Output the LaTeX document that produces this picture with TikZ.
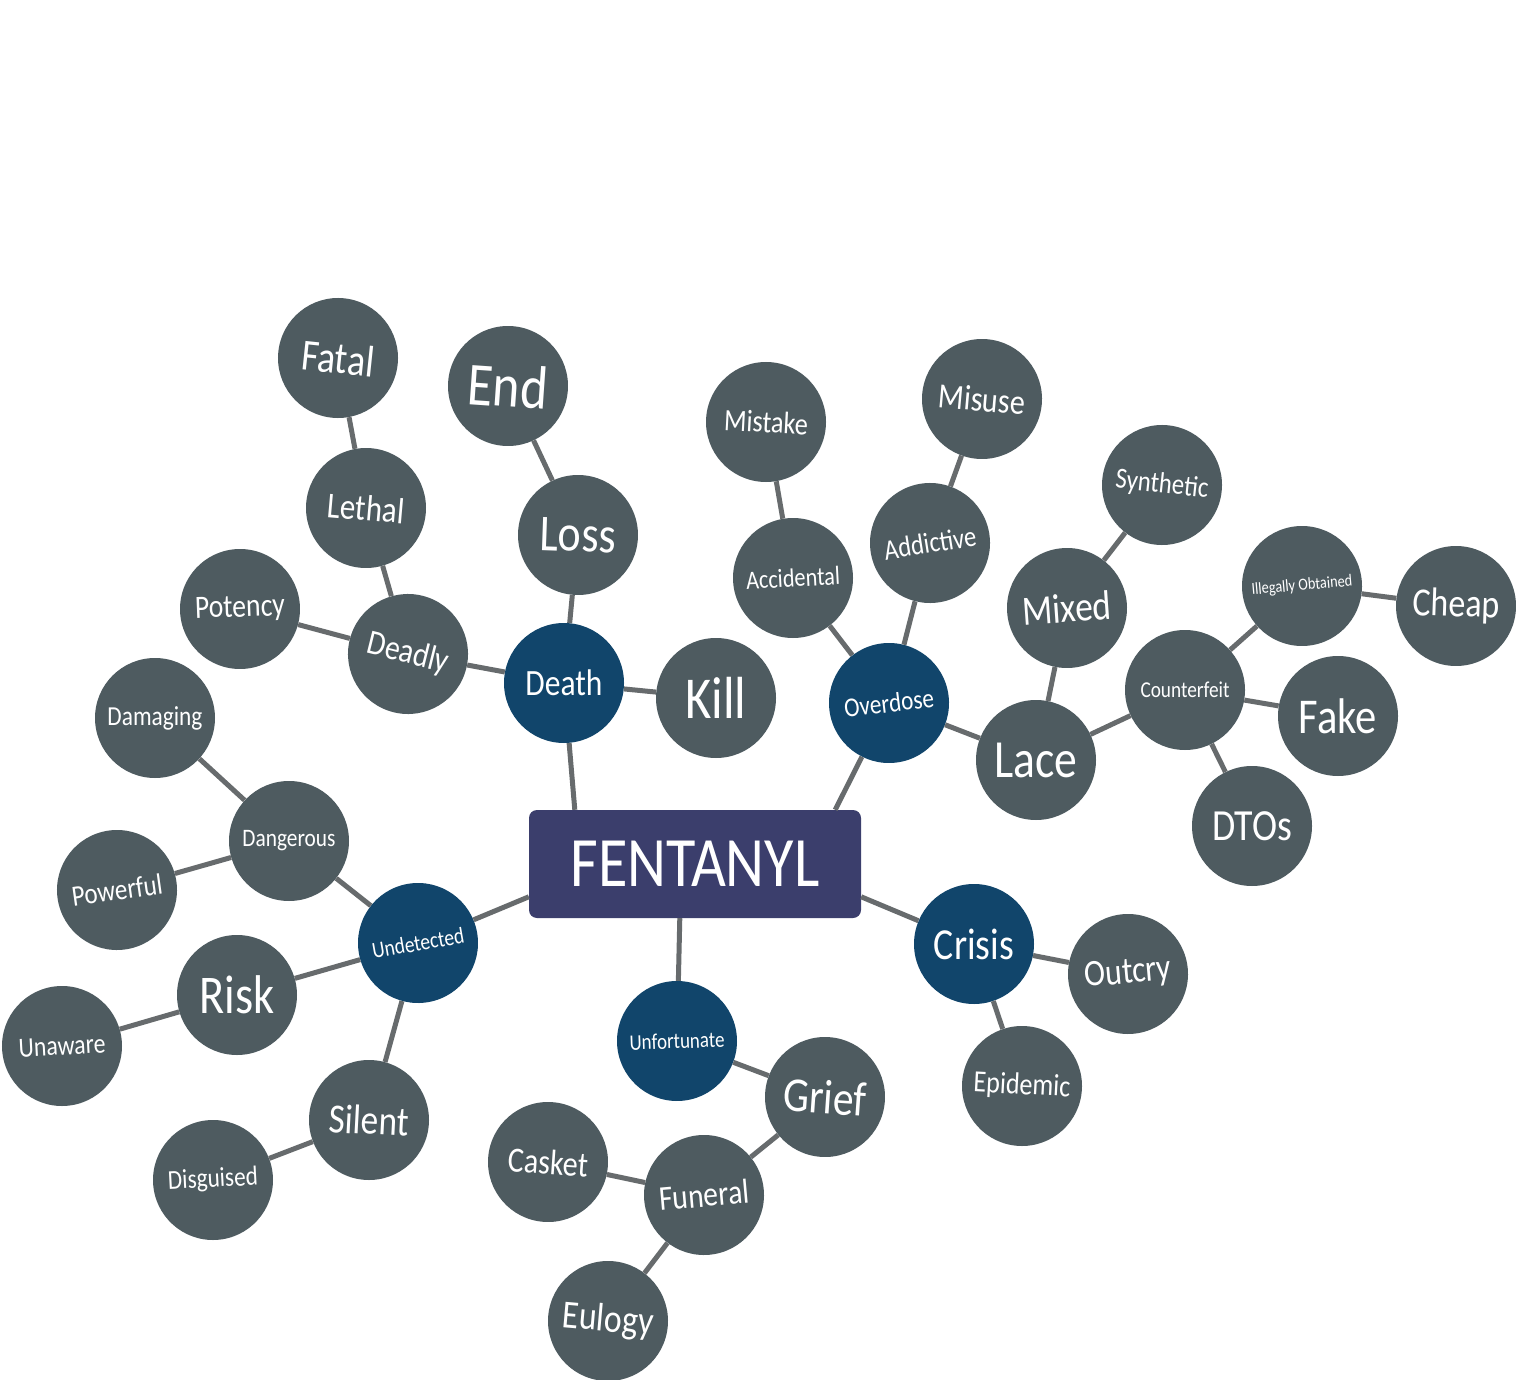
\documentclass[tikz,border=0pt]{standalone}
\usepackage{fontspec}
\setmainfont[FakeStretch=0.85]{Carlito}
\usetikzlibrary{calc}
\definecolor{nodegray}{HTML}{4E5B60}
\definecolor{hubblue}{HTML}{11456B}
\definecolor{rootpurple}{HTML}{3B3E6C}
\definecolor{edgegray}{HTML}{676B6D}
\newcommand{\fitw}[2]{\resizebox{#1pt}{!}{#2}}
\begin{document}
\begin{tikzpicture}[x=1pt,y=-1pt,
  word/.style={circle,minimum size=120pt,inner sep=0pt,fill=nodegray,text=white},
  hub/.style={word,fill=hubblue},
  link/.style={draw=edgegray,line width=5pt}]
\useasboundingbox (0,0) rectangle (1516,1380);
% root
\node[fill=rootpurple,rounded corners=8pt,minimum width=332pt,minimum height=108pt,text=white,inner sep=0pt] (fent) at (695,864) {\fitw{249}{FENTANYL}};
% hubs
\node[hub] (death) at (564,683) {\fitw{77}{Death}};
\node[hub,rotate=7] (overdose) at (889,703) {\fitw{90}{Overdose}};
\node[hub,rotate=10] (undetected) at (418,943) {\fitw{93}{Undetected}};
\node[hub] (crisis) at (974,944) {\fitw{80}{Crisis}};
\node[hub,rotate=2] (unfortunate) at (677,1041) {\fitw{95}{Unfortunate}};
% words
\node[word,rotate=-6] (fatal) at (338,358) {\fitw{73}{Fatal}};
\node[word,rotate=-4] (end) at (508,386) {\fitw{80}{End}};
\node[word,rotate=-5] (lethal) at (366,508) {\fitw{77}{Lethal}};
\node[word,rotate=-2] (loss) at (578,535) {\fitw{76}{Loss}};
\node[word,rotate=2] (potency) at (240,609) {\fitw{90}{Potency}};
\node[word,rotate=-14] (deadly) at (408,654) {\fitw{83}{Deadly}};
\node[word] (kill) at (716,698) {\fitw{61}{Kill}};
\node[word,rotate=-3] (mistake) at (766,422) {\fitw{84}{Mistake}};
\node[word,rotate=-5] (misuse) at (982,399) {\fitw{87}{Misuse}};
\node[word,rotate=3] (accidental) at (793,578) {\fitw{94}{Accidental}};
\node[word,rotate=9] (addictive) at (930,543) {\fitw{93}{Addictive}};
\node[word,rotate=-6] (synthetic) at (1162,485) {\fitw{93}{Synthetic}};
\node[word,rotate=4] (mixed) at (1067,608) {\fitw{89}{Mixed}};
\node[word,rotate=5] (illegal) at (1302,586) {\fitw{101}{Illegally Obtained}};
\node[word,rotate=-2] (cheap) at (1456,606) {\fitw{87}{Cheap}};
\node[word] (lace) at (1036,760) {\fitw{83}{Lace}};
\node[word] (counterfeit) at (1185,690) {\fitw{89}{Counterfeit}};
\node[word] (fake) at (1338,716) {\fitw{78}{Fake}};
\node[word] (dtos) at (1252,826) {\fitw{80}{DTOs}};
\node[word] (damaging) at (155,718) {\fitw{95}{Damaging}};
\node[word] (dangerous) at (289,841) {\fitw{93}{Dangerous}};
\node[word,rotate=8] (powerful) at (117,890) {\fitw{91}{Powerful}};
\node[word] (risk) at (237,995) {\fitw{75}{Risk}};
\node[word,rotate=3] (unaware) at (62,1046) {\fitw{87}{Unaware}};
\node[word,rotate=-3] (silent) at (369,1120) {\fitw{80}{Silent}};
\node[word,rotate=3] (disguised) at (213,1180) {\fitw{90}{Disguised}};
\node[word,rotate=5] (outcry) at (1128,974) {\fitw{87}{Outcry}};
\node[word,rotate=-3] (epidemic) at (1022,1086) {\fitw{97}{Epidemic}};
\node[word,rotate=-4] (grief) at (825,1097) {\fitw{83}{Grief}};
\node[word,rotate=-4] (casket) at (548,1162) {\fitw{80}{Casket}};
\node[word,rotate=5] (funeral) at (704,1195) {\fitw{90}{Funeral}};
\node[word,rotate=-5] (eulogy) at (608,1321) {\fitw{91}{Eulogy}};
% connection points on the root box
\coordinate (fdeath) at ($(fent.north west)+(46,0)$);
\coordinate (foverdose) at ($(fent.north east)+(-26,0)$);
\coordinate (fundetected) at ($(fent.north west)+(0,87)$);
\coordinate (fcrisis) at ($(fent.north east)+(0,87)$);
\coordinate (funfortunate) at ($(fent.south west)+(151,0)$);
% connectors
\draw[link] (death) -- (fdeath);
\draw[link] (overdose) -- (foverdose);
\draw[link] (undetected) -- (fundetected);
\draw[link] (crisis) -- (fcrisis);
\draw[link] (unfortunate) -- (funfortunate);
\draw[link] (fatal) -- (lethal);
\draw[link] (lethal) -- (deadly);
\draw[link] (potency) -- (deadly);
\draw[link] (deadly) -- (death);
\draw[link] (end) -- (loss);
\draw[link] (loss) -- (death);
\draw[link] (death) -- (kill);
\draw[link] (mistake) -- (accidental);
\draw[link] (accidental) -- (overdose);
\draw[link] (misuse) -- (addictive);
\draw[link] (addictive) -- (overdose);
\draw[link] (overdose) -- (lace);
\draw[link] (synthetic) -- (mixed);
\draw[link] (mixed) -- (lace);
\draw[link] (lace) -- (counterfeit);
\draw[link] (counterfeit) -- (illegal);
\draw[link] (illegal) -- (cheap);
\draw[link] (counterfeit) -- (fake);
\draw[link] (counterfeit) -- (dtos);
\draw[link] (damaging) -- (dangerous);
\draw[link] (dangerous) -- (powerful);
\draw[link] (dangerous) -- (undetected);
\draw[link] (undetected) -- (risk);
\draw[link] (risk) -- (unaware);
\draw[link] (undetected) -- (silent);
\draw[link] (silent) -- (disguised);
\draw[link] (crisis) -- (outcry);
\draw[link] (crisis) -- (epidemic);
\draw[link] (unfortunate) -- (grief);
\draw[link] (grief) -- (funeral);
\draw[link] (funeral) -- (casket);
\draw[link] (funeral) -- (eulogy);
\end{tikzpicture}
\end{document}
